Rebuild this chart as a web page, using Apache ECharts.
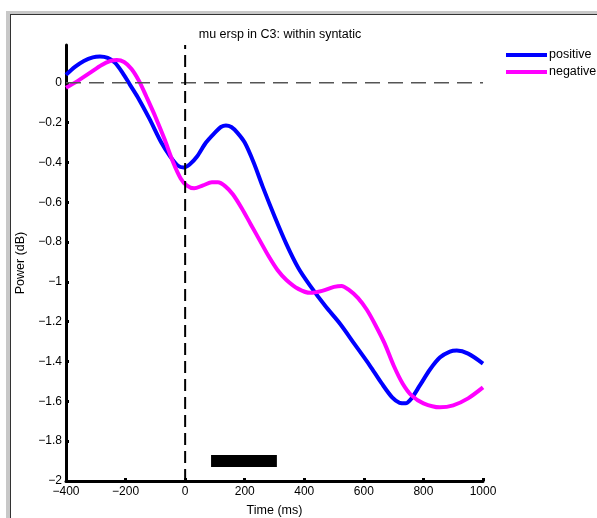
<!DOCTYPE html>
<html>
<head>
<meta charset="utf-8">
<script src="https://cdn.jsdelivr.net/npm/echarts@6/dist/echarts.min.js"></script>
<style>
html,body{margin:0;padding:0;background:#fff;}
#chart{width:597px;height:518px;}
</style>
</head>
<body>
<div id="chart"></div>
<script>
const titleText = 'mu ersp in C3: within syntatic';
const xTicks = [-400, -200, 0, 200, 400, 600, 800, 1000];
const yTicks = [-2, -1.8, -1.6, -1.4, -1.2, -1, -0.8, -0.6, -0.4, -0.2, 0];
const seriesNames = ['positive', 'negative'];
const positiveT = [-400,-370,-340,-310,-286,-260,-235,-210,-185,-160,-120,-80,-50,-25,-5,15,40,70,100,120,137,155,175,200,230,260,300,340,380,420,470,520,570,620,660,695,720,740,760,788,822,855,889,912,950,1000];
const positiveV = [0.04,0.08,0.11,0.128,0.132,0.125,0.10,0.05,-0.01,-0.07,-0.18,-0.30,-0.37,-0.415,-0.425,-0.41,-0.37,-0.30,-0.25,-0.222,-0.214,-0.222,-0.25,-0.30,-0.40,-0.52,-0.67,-0.81,-0.93,-1.02,-1.12,-1.21,-1.315,-1.42,-1.51,-1.58,-1.607,-1.61,-1.585,-1.52,-1.44,-1.38,-1.35,-1.345,-1.36,-1.41];
const negativeT = [-400,-360,-320,-280,-250,-229,-205,-180,-155,-130,-100,-70,-40,-15,5,30,60,90,110,135,160,190,220,250,280,310,340,380,420,460,500,525,550,580,610,640,670,700,730,760,800,855,900,950,1000];
const negativeV = [-0.025,0.01,0.05,0.09,0.11,0.115,0.105,0.07,0.01,-0.07,-0.17,-0.28,-0.40,-0.48,-0.515,-0.53,-0.515,-0.50,-0.50,-0.52,-0.56,-0.63,-0.71,-0.79,-0.87,-0.94,-0.99,-1.035,-1.055,-1.045,-1.025,-1.02,-1.04,-1.08,-1.14,-1.22,-1.31,-1.42,-1.51,-1.57,-1.61,-1.63,-1.62,-1.585,-1.53];
const sigWindow = [87, 308];
const sigLevel = -1.9;
const yMax = 0.19;

function fmt(v){ const s = String(+(+v).toFixed(1)); return s.replace('-', '\u2212'); }
function pairs(t, v){ return t.map((x,i)=>[x, v[i]]); }

const chart = echarts.init(document.getElementById('chart'));
const font = 'Liberation Sans, Arial, Helvetica, sans-serif';
chart.setOption({
  backgroundColor: '#fff',
  animation: false,
  title: { text: titleText, left: 275, top: 23, textAlign: 'center',
    textStyle: { fontFamily: font, fontSize: 12.5, fontWeight: 'normal', color: '#000' } },
  legend: { orient: 'vertical', left: 506, top: 48, padding: 0, itemWidth: 41, itemHeight: 4, itemGap: 3,
    icon: 'rect', data: seriesNames,
    textStyle: { fontFamily: font, fontSize: 12.5, color: '#000', lineHeight: 14, padding: [0,0,0,-3] } },
  grid: { left: 66, right: 114, top: 45, bottom: 37, containLabel: false, outerBoundsMode: 'none' },
  xAxis: { type: 'value', min: -400, max: 1000, interval: 200,
    name: 'Time (ms)', nameLocation: 'middle', nameGap: 23,
    nameTextStyle: { fontFamily: font, fontSize: 12.5, color: '#000' },
    axisLine: { onZero: false, lineStyle: { color: '#000', width: 3 } },
    axisTick: { inside: true, length: 3, lineStyle: { color: '#000', width: 3 } },
    axisLabel: { formatter: fmt, fontFamily: font, fontSize: 12, color: '#000', margin: 5, customValues: xTicks },
    splitLine: { show: false } },
  yAxis: { type: 'value', min: -2, max: yMax,
    name: 'Power (dB)', nameLocation: 'middle', nameGap: 35, nameRotate: 90,
    nameTextStyle: { fontFamily: font, fontSize: 12.5, color: '#000' },
    axisLine: { onZero: false, lineStyle: { color: '#000', width: 3 } },
    axisTick: { inside: true, length: 3, lineStyle: { color: '#000', width: 3 }, customValues: yTicks },
    axisLabel: { formatter: fmt, fontFamily: font, fontSize: 12, color: '#000', margin: 4, customValues: yTicks },
    splitLine: { show: false } },
  graphic: [
    { type: 'rect', shape: { x: 6, y: 11, width: 4, height: 507 }, style: { fill: '#c8c8c8' }, silent: true },
    { type: 'rect', shape: { x: 6, y: 11, width: 591, height: 3 }, style: { fill: '#c8c8c8' }, silent: true },
    { type: 'rect', shape: { x: 10, y: 14, width: 1, height: 504 }, style: { fill: '#333' }, silent: true },
    { type: 'rect', shape: { x: 10, y: 14, width: 587, height: 1 }, style: { fill: '#333' }, silent: true }
  ],
  series: [
    { name: 'positive', type: 'line', data: pairs(positiveT, positiveV), smooth: 0.3, showSymbol: false,
      lineStyle: { color: '#0000ff', width: 4 }, itemStyle: { color: '#0000ff' }, z: 3 },
    { name: 'negative', type: 'line', data: pairs(negativeT, negativeV), smooth: 0.3, showSymbol: false,
      lineStyle: { color: '#ff00ff', width: 4 }, itemStyle: { color: '#ff00ff' }, z: 4 },
    { name: 'zero', type: 'line', data: [[-400,0],[1000,0]], showSymbol: false, silent: true,
      lineStyle: { color: '#555', width: 1.5, type: [15, 8] }, z: 5 },
    { name: 'onset', type: 'line', data: [[0,-2],[0,yMax]], showSymbol: false, silent: true,
      lineStyle: { color: '#000', width: 2, type: [12, 6] }, z: 5 },
    { name: 'sig', type: 'line', data: [[sigWindow[0], sigLevel],[sigWindow[1], sigLevel]], showSymbol: false, silent: true,
      lineStyle: { color: '#000', width: 12, cap: 'butt' }, z: 5 }
  ]
});
</script>
</body>
</html>
